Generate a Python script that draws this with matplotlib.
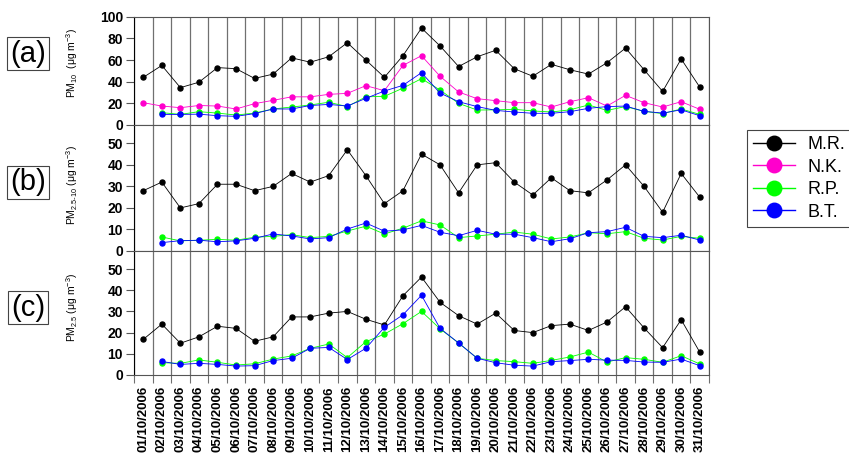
import numpy as np
import matplotlib
matplotlib.use("Agg")
import matplotlib.pyplot as plt

plt.rcParams['font.family'] = ['Liberation Sans', 'DejaVu Sans']
plt.rcParams['mathtext.default'] = 'regular'

nan = np.nan
days = np.arange(1, 32)
date_labels = [f"{d:02d}/10/2006" for d in days]

# (a) PM10
pm10_mr = [44, 55, 34.5, 39.5, 53, 52, 43, 47, 62, 58, 63, 76, 60, 44, 64, 89.5,
           73, 54, 63, 69, 52, 45, 56, 51, 47, 57.5, 71, 51, 31, 61, 35]
pm10_nk = [20.6, 17.5, 16, 18, 17.5, 14.8, 19.7, 22.8, 26, 26, 28.3, 29.2, 36.3, 31.7, 55, 64,
           45, 30.5, 24.3, 22.5, 20.6, 20.6, 16.6, 21.5, 25.2, 17.5, 27.4, 20.6, 16.6, 21.5, 14.5]
pm10_rp = [nan, 11.4, 9.8, 12.3, 11, 9.2, 11, 14.8, 16.6, 18.5, 21, 17, 26, 26.5, 34, 42.8,
           32.3, 20, 13.8, 14, 14.5, 13, 12, 14, 18.5, 13.5, 17, 12.6, 10.5, 14.8, 9.8]
pm10_bt = [nan, 9.8, 9.8, 10, 8.6, 8, 10.5, 14.8, 14.8, 18, 19, 17.5, 24.6, 31.4, 36.6, 48.3,
           29.5, 21.5, 17, 13.5, 12, 10.8, 10.8, 12.3, 15.4, 17, 17.5, 12.6, 11, 14, 8.6]

# (b) PM2.5-10
pmc_mr = [28, 32, 20, 22, 31, 31, 28, 30, 36, 32, 35, 47, 35, 22, 28, 45,
          40, 27, 40, 41, 32, 26, 34, 28, 27, 33, 40, 30, 18, 36, 25]
pmc_rp = [nan, 6.5, 4.7, 5, 5.4, 5, 6.4, 6.8, 7.6, 6.2, 6.8, 9.3, 11.5, 7.9, 10.6, 14,
          12.1, 6.2, 7, 7.8, 8.8, 7.8, 5.6, 6.5, 8.5, 8, 9, 5.9, 5.1, 6.8, 5.9]
pmc_bt = [nan, 3.9, 4.8, 5, 4.3, 4.7, 5.9, 7.9, 7, 5.6, 6.2, 10.2, 13, 9.2, 9.8, 11.9,
          8.7, 7.1, 9.6, 7.8, 7.8, 6.2, 4.3, 5.7, 8.5, 9, 11, 6.8, 6.2, 7.3, 5.1]

# (c) PM2.5
pm25_mr = [16.8, 24, 15, 18, 23, 22, 15.9, 18, 27.4, 27.4, 29.2, 30, 26.3, 23.6, 37.4, 46.2,
           34.3, 28, 24, 29.2, 21, 20, 23.3, 24, 21, 25, 32.2, 22.2, 12.9, 26.1, 10.8]
pm25_rp = [nan, 5.8, 5.5, 7.1, 6, 4.7, 5.3, 7.5, 9, 12.6, 14.6, 8.2, 15.7, 19.3, 24.2, 30,
           21.8, 15.1, 7.9, 6.8, 6.3, 5.5, 6.9, 8.5, 10.8, 6.1, 8.2, 7.4, 6, 9.1, 5.2]
pm25_bt = [nan, 6.4, 5, 5.5, 5, 4.2, 4.4, 6.8, 7.9, 12.6, 13, 7.3, 12.6, 22.5, 28.4, 37.6,
           22, 15.1, 7.9, 5.8, 4.6, 4.2, 6.3, 6.8, 7.4, 7, 6.9, 6.1, 6, 7.5, 4.4]

colors = {'M.R.': '#000000', 'N.K.': '#ff00cc', 'R.P.': '#00ff00', 'B.T.': '#0000ff'}

W, H = 849, 458
fig = plt.figure(figsize=(W / 100, H / 100), dpi=100)


def px_axes(top, bottom):
    return fig.add_axes([134 / W, (H - bottom) / H, (709 - 134) / W, (bottom - top) / H])


ax_a = px_axes(16.7, 125)
ax_b = px_axes(125, 251)
ax_c = px_axes(251, 375)

panels = [
    (ax_a, {'M.R.': pm10_mr, 'N.K.': pm10_nk, 'R.P.': pm10_rp, 'B.T.': pm10_bt},
     (0, 100), np.arange(0, 101, 20), r'PM$_{10}$  (μg m$^{-3}$)', '(a)', 63, 53.5),
    (ax_b, {'M.R.': pmc_mr, 'R.P.': pmc_rp, 'B.T.': pmc_bt},
     (0, 58.5), np.arange(0, 51, 10), r'PM$_{2.5\text{-}10}$ (μg m$^{-3}$)', '(b)', 185, 182.5),
    (ax_c, {'M.R.': pm25_mr, 'R.P.': pm25_rp, 'B.T.': pm25_bt},
     (0, 58.5), np.arange(0, 51, 10), r'PM$_{2.5}$ (μg m$^{-3}$)', '(c)', 307, 307.5),
]

for ax, series, ylim, yticks, ylab, tag, ylab_y, tag_y in panels:
    for name, vals in series.items():
        ax.plot(days, vals, color=colors[name], lw=0.6, marker='o', ms=3.6,
                mec=colors[name], mfc=colors[name], label=name, zorder=3)
    ax.set_xlim(0.5, 31.5)
    ax.set_ylim(*ylim)
    ax.set_yticks(yticks)
    ax.set_yticklabels([str(v) for v in yticks], fontweight='bold', fontsize=10)
    ax.tick_params(axis='y', direction='out', length=6, width=0.8, color='#555555', pad=2)
    # vertical separators between days
    ax.set_xticks(np.arange(0.5, 32, 1), minor=True)
    ax.grid(which='minor', axis='x', color='#707070', lw=0.9)
    ax.set_xticks(days)
    ax.tick_params(axis='x', which='both', length=0, labelbottom=False)
    for s in ax.spines.values():
        s.set_color('#555555')
        s.set_linewidth(0.8)
    ax.spines['left'].set_color('black')

    fig.text(72 / W, (H - ylab_y) / H, ylab, rotation=90, ha='center', va='center', fontsize=7.5)
    fig.text(28 / W, (H - tag_y) / H, tag, ha='center', va='center', fontsize=21,
             bbox=dict(boxstyle='square,pad=0.1', fc='white', ec='#444444', lw=0.8))

ax_c.set_xticklabels(date_labels, rotation=90, fontsize=9.5, fontweight='bold')
ax_c.tick_params(axis='x', which='major', labelbottom=True, pad=8)
ax_c.tick_params(axis='x', which='minor', direction='out', length=6, width=0.8, color='#707070')

handles, labels = ax_a.get_legend_handles_labels()
leg = fig.legend(handles, labels, loc='upper left', bbox_to_anchor=(747 / W, (H - 130) / H),
                 borderaxespad=0, fontsize=13, markerscale=2.9, handlelength=2.3,
                 handletextpad=0.7, labelspacing=0.3, borderpad=0.35, fancybox=False,
                 edgecolor='#444444', framealpha=1)
leg.get_frame().set_linewidth(0.8)
for line in leg.get_lines():
    line.set_linewidth(1.0)

fig.savefig('out.png', dpi=100)
